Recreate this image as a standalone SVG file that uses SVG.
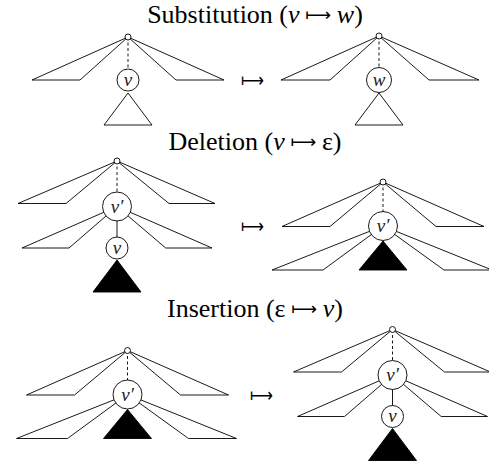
<svg xmlns="http://www.w3.org/2000/svg" width="489" height="463" viewBox="0 0 489 463">
<style>
.t{font-family:"Liberation Serif","Times New Roman",serif;font-size:26px;fill:#000;text-anchor:middle}
.i{font-style:italic}
.ar{font-family:"DejaVu Sans",sans-serif;font-weight:normal;font-size:18px}
.lab{font-family:"Liberation Serif",serif;font-style:italic;font-size:19px;text-anchor:middle;fill:#222}
.e{fill:none;stroke:#000;stroke-width:0.9;stroke-linejoin:miter}
.d{stroke:#000;stroke-width:0.9;stroke-dasharray:3 2.5}
.s{stroke:#000;stroke-width:0.9}
.n{fill:#fff;stroke:#000;stroke-width:0.9}
.b{fill:#000;stroke:#000;stroke-width:0.9}
.map{font-family:"DejaVu Sans",sans-serif;font-size:20px;fill:#000}
</style>
<g id="titles">
<text class="t" x="255" y="23">Substitution (<tspan class="i">v</tspan><tspan class="ar" dy="-2"> ⟼ </tspan><tspan class="i" dy="2">w</tspan>)</text>
<text class="t" x="255" y="150">Deletion (<tspan class="i">v</tspan><tspan class="ar" dy="-2"> ⟼ </tspan><tspan dy="2">ε)</tspan></text>
<text class="t" x="255" y="317">Insertion (ε<tspan class="ar" dy="-2"> ⟼ </tspan><tspan class="i" dy="2">v</tspan>)</text>
</g>
<g id="arrows">
<text class="map" x="241" y="87" textLength="23" lengthAdjust="spacingAndGlyphs">⟼</text>
<text class="map" x="241" y="233" textLength="23" lengthAdjust="spacingAndGlyphs">⟼</text>
<text class="map" x="250" y="402" textLength="23" lengthAdjust="spacingAndGlyphs">⟼</text>
</g>
<!-- Substitution left -->
<g id="sub-left" transform="translate(128,37)">
<g class="edges">
<polygon class="e" points="0,0 -96,43 -48,43"/>
<polygon class="e" points="0,0 48,43 96,43"/>
<line class="d" x1="0" y1="0" x2="0" y2="43"/>
<polygon class="e" points="0,56 -24,88 24,88"/>
</g>
<circle class="n" cx="0" cy="43" r="11"/>
<text class="lab" x="0" y="48.5">v</text>
<circle class="n" cx="0" cy="0" r="3"/>
</g>
<!-- Substitution right -->
<g id="sub-right" transform="translate(379,36)">
<g class="edges">
<polygon class="e" points="0,0 -98,44 -49,44"/>
<polygon class="e" points="0,0 50,44 100,44"/>
<line class="d" x1="0" y1="0" x2="0" y2="44"/>
<polygon class="e" points="0,57 -24,89 24,89"/>
</g>
<circle class="n" cx="0" cy="44" r="12.5"/>
<text class="lab" x="0" y="49.5">w</text>
<circle class="n" cx="0" cy="0" r="3"/>
</g>
<!-- Deletion left -->
<g id="del-left" transform="translate(117,161)">
<g class="edges">
<polygon class="e" points="0,0 -99,42.5 -51,42.5"/>
<polygon class="e" points="0,0 52,42.5 98,42.5"/>
<line class="d" x1="0" y1="0" x2="0" y2="45.5"/>
<polygon class="e" points="0,45.5 -95,87 -48,87"/>
<polygon class="e" points="0,45.5 48.7,87 95,87"/>
<line class="s" x1="0" y1="45.5" x2="0" y2="87"/>
<polygon class="b" points="0,99 -24,131 24,131"/>
</g>
<circle class="n" cx="0" cy="45.5" r="14.5"/>
<text class="lab" x="0" y="51.5">v′</text>
<circle class="n" cx="0" cy="87" r="11"/>
<text class="lab" x="0" y="92.5">v</text>
<circle class="n" cx="0" cy="0" r="3"/>
</g>
<!-- Deletion right -->
<g id="del-right" transform="translate(383,182)">
<g class="edges">
<polygon class="e" points="0,0 -101,44.5 -53,44.5"/>
<polygon class="e" points="0,0 53,44.5 101,44.5"/>
<line class="d" x1="0" y1="0" x2="0" y2="44"/>
<polygon class="e" points="0,44 -111,88 -60,88"/>
<polygon class="e" points="0,44 61,88 109,88"/>
<polygon class="b" points="0,59 -24,88 24,88"/>
</g>
<circle class="n" cx="0" cy="44" r="14.5"/>
<text class="lab" x="0" y="50">v′</text>
<circle class="n" cx="0" cy="0" r="3"/>
</g>
<!-- Insertion left -->
<g id="ins-left" transform="translate(127.5,350.5)">
<g class="edges">
<polygon class="e" points="0,0 -101,44.5 -53,44.5"/>
<polygon class="e" points="0,0 53,44.5 101,44.5"/>
<line class="d" x1="0" y1="0" x2="0" y2="44"/>
<polygon class="e" points="0,44 -111,88 -60,88"/>
<polygon class="e" points="0,44 61,88 109,88"/>
<polygon class="b" points="0,59 -24,88 24,88"/>
</g>
<circle class="n" cx="0" cy="44" r="14.5"/>
<text class="lab" x="0" y="50">v′</text>
<circle class="n" cx="0" cy="0" r="3"/>
</g>
<!-- Insertion right -->
<g id="ins-right" transform="translate(392.5,329.5)">
<g class="edges">
<polygon class="e" points="0,0 -99,42.5 -51,42.5"/>
<polygon class="e" points="0,0 52,42.5 98,42.5"/>
<line class="d" x1="0" y1="0" x2="0" y2="45.5"/>
<polygon class="e" points="0,45.5 -95,87 -48,87"/>
<polygon class="e" points="0,45.5 48.7,87 95,87"/>
<line class="s" x1="0" y1="45.5" x2="0" y2="87"/>
<polygon class="b" points="0,99 -24,131 24,131"/>
</g>
<circle class="n" cx="0" cy="45.5" r="14.5"/>
<text class="lab" x="0" y="51.5">v′</text>
<circle class="n" cx="0" cy="87" r="11"/>
<text class="lab" x="0" y="92.5">v</text>
<circle class="n" cx="0" cy="0" r="3"/>
</g>
</svg>
